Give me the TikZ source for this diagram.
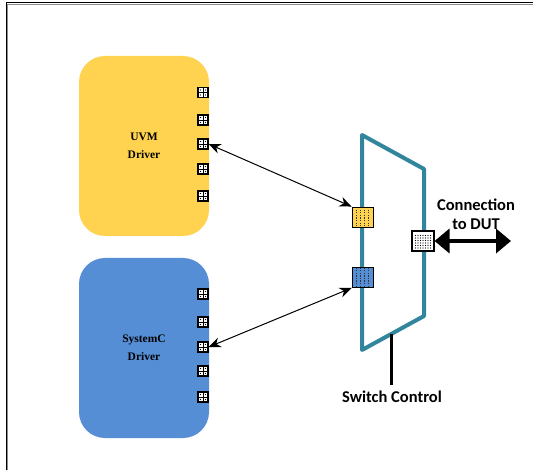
\documentclass[tikz,border=0pt]{standalone}
\usepackage{fontspec}
\setmainfont{Liberation Serif}
\newfontfamily\labelsans{Carlito}
\usetikzlibrary{arrows.meta}

\definecolor{uvmyellow}{HTML}{FFD34F}
\definecolor{scblue}{HTML}{558ED5}
\definecolor{switchteal}{HTML}{31859C}

\tikzset{
  driverbox/.style={draw=none, rounded corners=26pt, minimum width=130pt, minimum height=180pt,
    font=\bfseries\fontsize{11.5}{18}\selectfont, align=center, text=black},
  porticon/.style={draw=black, line width=1.4pt, fill=white, minimum size=10pt, inner sep=0pt,
    path picture={
      \draw[line width=0.9pt] (path picture bounding box.north) -- (path picture bounding box.south);
      \draw[line width=0.9pt] (path picture bounding box.west) -- (path picture bounding box.east);
      \foreach \dx in {-2.5,2.5}{\foreach \dy in {-2.5,2.5}{
        \fill[black] ([xshift=\dx pt,yshift=\dy pt]path picture bounding box.center) circle (0.55pt);}}
    }},
  swport/.style={draw=black, line width=0.9pt, minimum width=21pt, minimum height=20pt, inner sep=0pt,
    path picture={
      \foreach \dx in {-6,-2,2,6}{
        \draw[black!80, line width=1pt, dash pattern=on 1.3pt off 1.3pt]
          ([xshift=\dx pt]path picture bounding box.north) -- ([xshift=\dx pt]path picture bounding box.south);}
    }},
  link/.style={line width=1pt, {Stealth[length=12pt,width=10pt]}-{Stealth[length=12pt,width=10pt]}},
  caption/.style={font=\labelsans\bfseries\fontsize{16.5}{19}\selectfont, align=center, text=black}
}

\begin{document}
\begin{tikzpicture}[x=1pt, y=-1pt]
\useasboundingbox (0,0) rectangle (533,470);
\fill[white] (0,0) rectangle (533,470);

% outer frame (top and left edges)
\draw[black!45, line width=1.2pt] (7.5,471) -- (7.5,4.5) -- (534,4.5);
\draw[black, line width=1pt] (6,471) -- (6,3) -- (534,3);

% driver blocks
\node[driverbox, fill=uvmyellow] (uvm) at (144,146) {UVM\\Driver};
\node[driverbox, fill=scblue] (sysc) at (144,348) {SystemC\\Driver};

% driver ports
\foreach \i/\y in {1/92.5,2/120,3/144,4/169,5/196}
  \node[porticon] (u\i) at (203,\y) {};
\foreach \i/\y in {1/294,2/322,3/347,4/371,5/397}
  \node[porticon] (s\i) at (203,\y) {};

% switch
\coordinate (swtl) at (362,135);
\coordinate (swtr) at (424,169);
\coordinate (swbr) at (424,316);
\coordinate (swbl) at (362,350);
\draw[switchteal, line width=4pt, line join=round] (swtl) -- (swtr) -- (swbr) -- (swbl) -- cycle;

% switch ports
\node[swport, fill=uvmyellow] (py) at (362.5,217) {};
\node[swport, fill=scblue] (pb) at (362.5,277.5) {};
\node[porticon, line width=1.1pt, minimum width=22pt, minimum height=20pt, path picture={
    \foreach \dx in {-7.5,-5,...,7.5}{\foreach \dy in {-7,-4.5,...,7}{
      \fill[black] ([xshift=\dx pt,yshift=\dy pt]path picture bounding box.center) circle (0.6pt);}}
  }] (pw) at (423,241) {};

% links from drivers to switch
\draw[link] (u3.east) -- (py.north west);
\draw[link] (s3.east) -- (pb.south west);

% connection to DUT
\coordinate (dut) at (511,241);
\draw[line width=4pt, {Triangle[length=15pt,width=24pt]}-{Triangle[length=15pt,width=24pt]}] (pw.east) -- (dut);
\node[caption] (dutlabel) at (476,214) {Connection\\to DUT};

% switch control
\coordinate (ctrltop) at (391,334);
\coordinate (ctrlbot) at (391,385);
\draw[black, line width=3pt] (ctrltop) -- (ctrlbot);
\node[caption] (ctrllabel) at (392,397) {Switch Control};
\end{tikzpicture}
\end{document}
